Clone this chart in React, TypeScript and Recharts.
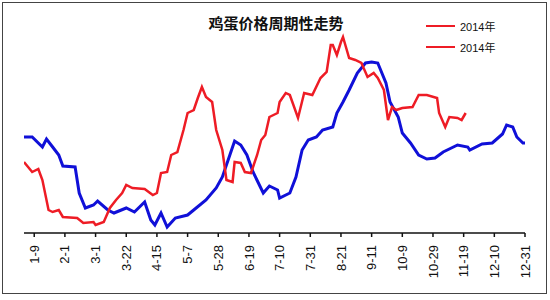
import { LineChart, Line, XAxis, YAxis } from 'recharts';

// x = trading-day index from Jan 2, y = relative price level (no y labels in the source)
const tickDays = [5, 20, 35, 50, 65, 80, 95, 110, 125, 140, 155, 170, 185, 200, 215, 230, 245];
const tickLabels = [
  '1-9', '2-1', '3-1', '3-22', '4-15', '5-7', '5-28', '6-19', '7-10',
  '7-31', '8-21', '9-11', '10-9', '10-29', '11-19', '12-10', '12-31',
];
const legendNames = ['2014年', '2014年'];

const blueDays = [
  0, 4, 9, 11, 14, 17, 19, 25, 27, 30, 34, 36, 41, 44, 50, 54, 59, 62, 64, 67, 70, 74, 80, 83,
  89, 94, 97, 101, 103, 106, 109, 112, 117, 120, 124, 125, 130, 133, 136, 139, 143, 146, 151,
  153, 156, 159, 163, 167, 170, 173, 177, 179, 183, 185, 189, 193, 197, 201, 205, 212, 217,
  218, 224, 229, 234, 236, 239, 241, 244, 245,
];
const blueValues = [
  96, 96, 86, 94, 86, 78, 67, 66, 40, 25, 28, 32, 23, 20, 25, 21, 31, 13, 8, 20, 6, 15, 18, 23,
  33, 45, 56, 80, 92, 88, 78, 61, 40, 47, 43, 35, 40, 56, 83, 93, 96, 103, 106,
  120, 131, 143, 160, 170, 171, 170, 150, 131, 116, 100, 90, 78, 74, 75, 81, 88, 86,
  83, 89, 90, 99, 108, 106, 96, 90, 90,
];

const redDays = [
  0, 2, 4, 7, 9, 12, 14, 17, 19, 26, 29, 34, 35, 39, 42, 45, 48, 50, 53, 59, 63, 65, 67, 70,
  72, 75, 78, 80, 83, 85, 87, 89, 92, 94, 97, 99, 102, 103, 106, 108, 111, 114, 116, 118,
  120, 124, 125, 128, 130, 134, 137, 141, 145, 148, 150, 151, 153, 155, 156, 159, 162, 165,
  168, 171, 173, 176, 178, 180, 182, 185, 190, 193, 197, 202, 203, 206, 208, 212, 214, 216,
];
const redValues = [
  71, 66, 61, 64, 53, 23, 21, 23, 16, 15, 10, 11, 8, 11, 25, 33, 40, 48, 45, 44, 38, 40, 60, 61,
  78, 81, 103, 120, 123, 135, 146, 136, 131, 103, 83, 53, 51, 71, 70, 61, 60, 78, 93, 98,
  116, 120, 131, 140, 138, 115, 140, 138, 155, 161, 188, 188, 178, 191, 196, 175, 173, 170,
  156, 160, 155, 143, 113, 126, 123, 125, 126, 138, 138, 135, 120, 106, 116, 115, 113, 120,
];

const blueData = blueDays.map((d, i) => ({ d, v: blueValues[i] }));
const redData = redDays.map((d, i) => ({ d, v: redValues[i] }));

const BLUE = '#1010d8';
const RED = '#ee1c25';

const RotTick = (props: any) => {
  const { x, y, payload } = props;
  const idx = tickDays.indexOf(payload.value);
  return (
    <g transform={`translate(${x},${y})`}>
      <text
        transform="rotate(-90)"
        x={0}
        y={0}
        dy="0.35em"
        textAnchor="end"
        fontSize={13}
        fontFamily="Liberation Sans, Arial, sans-serif"
        fill="#111"
      >
        {tickLabels[idx]}
      </text>
    </g>
  );
};

export default function App() {
  return (
    <div style={{ position: 'absolute', left: 0, top: 0, width: 550, height: 300, background: '#fff' }}>
      <div
        style={{
          position: 'absolute', left: 2, top: 2, width: 545, height: 292,
          border: '1px solid #444', boxSizing: 'border-box',
        }}
      />
      <div
        style={{
          position: 'absolute', left: 0, top: 12, width: 552, textAlign: 'center',
          fontFamily: '"Noto Sans CJK SC", sans-serif', fontWeight: 'bold', fontSize: 15, color: '#111',
        }}
      >
        鸡蛋价格周期性走势
      </div>
      <LineChart width={550} height={300} margin={{ top: 33, right: 25, bottom: 0, left: 24 }}>
        <XAxis
          dataKey="d"
          type="number"
          domain={[0, 245]}
          ticks={tickDays}
          interval={0}
          tick={<RotTick />}
          tickSize={4}
          tickMargin={8}
          height={67}
          axisLine={{ stroke: '#111', strokeWidth: 1.5 }}
          tickLine={{ stroke: '#111', strokeWidth: 1.5 }}
          allowDataOverflow
        />
        <YAxis
          yAxisId="left"
          type="number"
          domain={[0, 200]}
          tick={false}
          tickLine={false}
          width={0}
          axisLine={{ stroke: '#111', strokeWidth: 2 }}
        />
        <YAxis
          yAxisId="right"
          orientation="right"
          type="number"
          domain={[0, 200]}
          tick={false}
          tickLine={false}
          width={0}
          axisLine={{ stroke: '#111', strokeWidth: 1.5 }}
        />
        <Line
          yAxisId="left"
          data={blueData}
          dataKey="v"
          type="linear"
          stroke={BLUE}
          strokeWidth={3}
          dot={false}
          isAnimationActive={false}
        />
        <Line
          yAxisId="left"
          data={redData}
          dataKey="v"
          type="linear"
          stroke={RED}
          strokeWidth={2.5}
          dot={false}
          isAnimationActive={false}
        />
      </LineChart>
      <div
        style={{
          position: 'absolute', left: 426, top: 15,
          fontFamily: 'Liberation Sans, "Noto Sans CJK SC", sans-serif', fontSize: 11, color: '#111',
        }}
      >
        {legendNames.map((t, i) => (
          <div key={i} style={{ display: 'flex', alignItems: 'center', height: 21 }}>
            <span style={{ display: 'inline-block', width: 29, height: 2, background: RED, marginRight: 5 }} />
            <span>{t}</span>
          </div>
        ))}
      </div>
    </div>
  );
}
